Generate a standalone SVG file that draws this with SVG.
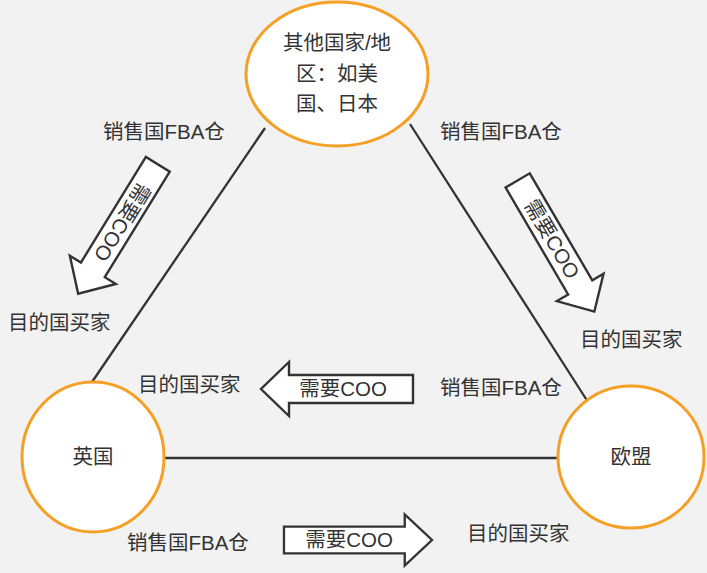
<svg xmlns="http://www.w3.org/2000/svg" width="707" height="573" viewBox="0 0 707 573">
  <defs>
    <style>
      text { font-family: "Liberation Sans", "Noto Sans CJK SC", sans-serif; font-size: 20.5px; fill: #333333; }
      .node { fill: #ffffff; stroke: #F5A025; stroke-width: 3; }
      .conn { stroke: #333333; stroke-width: 2.3; fill: none; }
      .arrow { fill: #ffffff; stroke: #333333; stroke-width: 2.4; stroke-linejoin: miter; }
      .c { text-anchor: middle; }
    </style>
    <path id="arr" d="M -76 -14 L 48 -14 L 48 -27 L 76 0 L 48 27 L 48 14 L -76 14 Z"/>
  </defs>
  <rect x="0" y="0" width="707" height="573" fill="#f2f2f2"/>

  <g id="connectors">
    <line class="conn" x1="265" y1="128" x2="92" y2="382"/>
    <line class="conn" x1="410" y1="124" x2="588" y2="402"/>
    <line class="conn" x1="164" y1="458" x2="558" y2="458"/>
  </g>

  <g id="node-other">
    <ellipse class="node" cx="337" cy="74" rx="91" ry="72"/>
    <text class="c" x="337" y="50">其他国家/地</text>
    <text class="c" x="337" y="81">区：如美</text>
    <text class="c" x="337" y="111">国、日本</text>
  </g>
  <g id="node-uk">
    <ellipse class="node" cx="93" cy="457" rx="71" ry="75"/>
    <text class="c" x="93" y="464">英国</text>
  </g>
  <g id="node-eu">
    <ellipse class="node" cx="631" cy="457" rx="73" ry="71"/>
    <text class="c" x="631" y="464">欧盟</text>
  </g>

  <g id="arrow-left-diag" transform="translate(118,229) rotate(121.6)">
    <use href="#arr" class="arrow"/>
    <text class="c" x="-8" y="7">需要COO</text>
  </g>
  <g id="arrow-right-diag" transform="translate(556,246) rotate(59.7)">
    <use href="#arr" class="arrow"/>
    <text class="c" x="-8" y="7">需要COO</text>
  </g>
  <g id="arrow-middle">
    <use href="#arr" class="arrow" transform="translate(337,389) rotate(180)"/>
    <text class="c" x="343" y="396">需要COO</text>
  </g>
  <g id="arrow-bottom">
    <use href="#arr" class="arrow" transform="translate(358,540) scale(0.974,0.95)"/>
    <text class="c" x="349" y="547">需要COO</text>
  </g>

  <g id="labels">
    <text x="103" y="139">销售国FBA仓</text>
    <text x="440" y="139">销售国FBA仓</text>
    <text x="8" y="330">目的国买家</text>
    <text x="580" y="347">目的国买家</text>
    <text x="138" y="392">目的国买家</text>
    <text x="440" y="395">销售国FBA仓</text>
    <text x="127" y="550">销售国FBA仓</text>
    <text x="467" y="541">目的国买家</text>
  </g>
</svg>
